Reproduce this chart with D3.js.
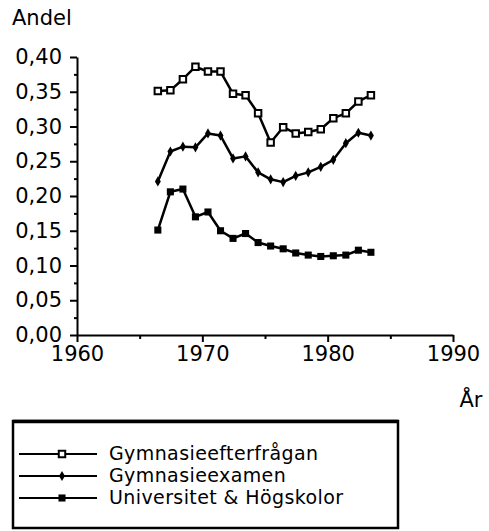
<!DOCTYPE html>
<html>
<head>
<meta charset="utf-8">
<script src="https://cdn.jsdelivr.net/npm/d3@7"></script>
<style>
  body { margin: 0; background: #fff; }
  svg { font-family: "DejaVu Sans", sans-serif; }
  .axis path, .axis line { stroke: #000; stroke-width: 2; }
  .axis text { font-size: 21px; fill: #000; font-family: "DejaVu Sans", sans-serif; }
</style>
</head>
<body>
<svg id="chart"></svg>
<script>
// data (years plotted at mid-year)
var years = [1966, 1967, 1968, 1969, 1970, 1971, 1972, 1973, 1974,
             1975, 1976, 1977, 1978, 1979, 1980, 1981, 1982, 1983];
var efterfragan = [0.351, 0.352, 0.368, 0.386, 0.379, 0.379, 0.347, 0.345, 0.319,
                   0.277, 0.299, 0.290, 0.292, 0.296, 0.312, 0.319, 0.336, 0.345];
var examen = [0.221, 0.264, 0.271, 0.270, 0.290, 0.287, 0.254, 0.257, 0.234,
              0.224, 0.220, 0.229, 0.234, 0.242, 0.252, 0.276, 0.291, 0.287];
var hogskolor = [0.151, 0.206, 0.210, 0.170, 0.177, 0.150, 0.139, 0.146, 0.133,
                 0.128, 0.124, 0.118, 0.115, 0.113, 0.114, 0.115, 0.122, 0.119];
var seriesNames = ['Gymnasieefterfrågan', 'Gymnasieexamen', 'Universitet & Högskolor'];
var xTicks = [1960, 1970, 1980, 1990];
var yTicks = [0, 0.05, 0.10, 0.15, 0.20, 0.25, 0.30, 0.35, 0.40];

document.addEventListener('DOMContentLoaded', () => {
    var width = 489;
    var height = 531;

    var svg = d3.select('#chart')
        .attr('width', width)
        .attr('height', height);

    var xScale = d3.scaleLinear().domain([1960, 1990]).range([77, 453]);
    var yScale = d3.scaleLinear().domain([0, 0.4]).range([335, 57]);

    // minor ticks first, then main axes on top
    svg.append('g')
        .attr('class', 'axis')
        .attr('transform', 'translate(0,335)')
        .call(d3.axisBottom(xScale).tickValues([1965, 1975, 1985]).tickSize(4).tickFormat(''))
        .select('.domain').remove();

    svg.append('g')
        .attr('class', 'axis')
        .attr('transform', 'translate(77,0)')
        .call(d3.axisLeft(yScale).tickValues(d3.range(0.025, 0.4, 0.05)).tickSize(3).tickFormat(''))
        .select('.domain').remove();

    svg.append('g')
        .attr('class', 'axis')
        .attr('transform', 'translate(0,335)')
        .call(d3.axisBottom(xScale).tickValues(xTicks).tickSize(7).tickSizeOuter(0).tickPadding(4).tickFormat(d3.format('d')));

    svg.append('g')
        .attr('class', 'axis')
        .attr('transform', 'translate(77,0)')
        .call(d3.axisLeft(yScale).tickValues(yTicks).tickSize(7).tickSizeOuter(0).tickPadding(8)
            .tickFormat(d => d.toFixed(2).replace('.', ',')));

    // axis titles
    svg.append('text')
        .text('Andel')
        .attr('x', 12)
        .attr('y', 25)
        .style('font-size', '21px');

    svg.append('text')
        .text('År')
        .attr('x', 471)
        .attr('y', 407)
        .attr('text-anchor', 'middle')
        .style('font-size', '21px');

    var line = d3.line()
        .x((d, i) => xScale(years[i] + 0.45))
        .y(d => yScale(d));

    var allSeries = [efterfragan, examen, hogskolor];
    allSeries.forEach(vals => {
        svg.append('path')
            .attr('d', line(vals))
            .attr('fill', 'none')
            .attr('stroke', '#000')
            .attr('stroke-width', 2.5)
            .attr('stroke-linejoin', 'round');
    });

    var openSquare = d3.symbol().type(d3.symbolSquare).size(42);
    var diamond = d3.symbol().type(d3.symbolDiamond).size(30);
    var solidSquare = d3.symbol().type(d3.symbolSquare).size(50);

    function drawMarkers(g, cx, cy, k) {
        if (k === 0) {
            g.append('path').attr('d', openSquare())
                .attr('transform', 'translate(' + cx + ',' + cy + ')')
                .attr('fill', '#fff').attr('stroke', '#000').attr('stroke-width', 2);
        } else if (k === 1) {
            g.append('path').attr('d', diamond())
                .attr('transform', 'translate(' + cx + ',' + cy + ')')
                .attr('fill', '#000');
        } else {
            g.append('path').attr('d', solidSquare())
                .attr('transform', 'translate(' + cx + ',' + cy + ')')
                .attr('fill', '#000');
        }
    }

    allSeries.forEach((vals, k) => {
        var g = svg.append('g');
        vals.forEach((v, i) => drawMarkers(g, xScale(years[i] + 0.45), yScale(v), k));
    });

    // legend
    svg.append('rect')
        .attr('x', 13)
        .attr('y', 421)
        .attr('width', 385)
        .attr('height', 107)
        .attr('fill', 'none')
        .attr('stroke', '#000')
        .attr('stroke-width', 2.5);
    svg.append('line')
        .attr('x1', 13).attr('x2', 398)
        .attr('y1', 421.5).attr('y2', 421.5)
        .attr('stroke', '#000')
        .attr('stroke-width', 3.5);

    seriesNames.forEach((name, k) => {
        var ly = 454 + k * 22;
        svg.append('line')
            .attr('x1', 19).attr('x2', 97)
            .attr('y1', ly).attr('y2', ly)
            .attr('stroke', '#000')
            .attr('stroke-width', 2);
        drawMarkers(svg, 62, ly, k);
        svg.append('text')
            .text(name)
            .attr('x', 109)
            .attr('y', ly + 6)
            .style('font-size', '19px')
            .style('letter-spacing', '0.4px');
    });
})
</script>
</body>
</html>
